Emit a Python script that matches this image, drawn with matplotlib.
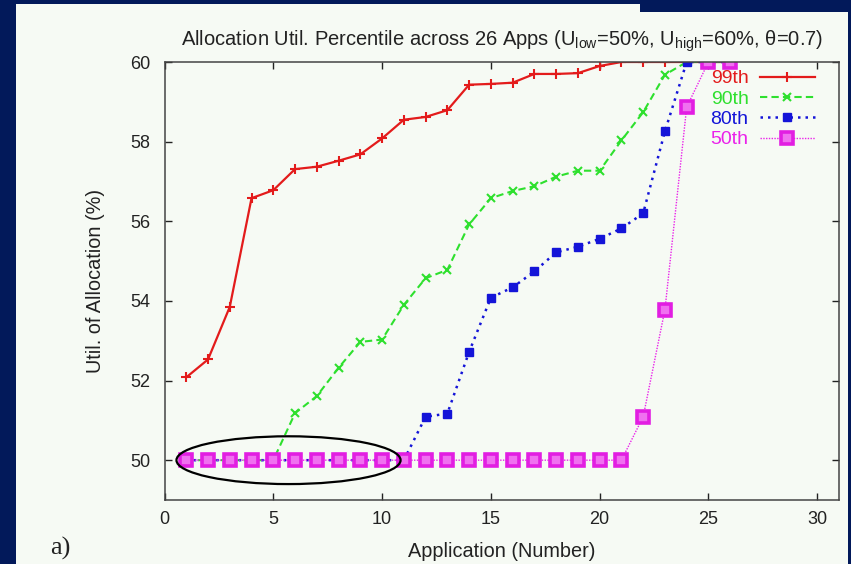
import matplotlib.pyplot as plt
from matplotlib.patches import Ellipse, Rectangle

# application index and percentile curves
apps = list(range(1, 27))

p99 = [52.08, 52.53, 53.85, 56.58, 56.78, 57.31, 57.37, 57.52, 57.68, 58.08,
       58.55, 58.62, 58.79, 59.43, 59.45, 59.48, 59.70, 59.70, 59.72, 59.90,
       60.0, 60.0, 60.0, 60.0, 60.0, 60.0]
p90 = [50.0, 50.0, 50.0, 50.0, 50.0, 51.18, 51.61, 52.32, 52.97, 53.03,
       53.90, 54.57, 54.78, 55.92, 56.58, 56.76, 56.88, 57.12, 57.27, 57.27,
       58.03, 58.74, 59.68, 60.0, 60.0, 60.0]
p80 = [50.0, 50.0, 50.0, 50.0, 50.0, 50.0, 50.0, 50.0, 50.0, 50.0,
       50.0, 51.09, 51.17, 52.72, 54.08, 54.34, 54.74, 55.22, 55.36, 55.56,
       55.82, 56.20, 58.26, 60.0, 60.0, 60.0]
p50 = [50.0] * 21 + [51.09, 53.78, 58.87, 60.0, 60.0]

labels = ["99th", "90th", "80th", "50th"]
xticks = [0, 5, 10, 15, 20, 25, 30]
yticks = [50, 52, 54, 56, 58, 60]

navy = "#02195a"
panel = "#f6faf4"

plt.rcParams["font.family"] = ["Liberation Sans", "DejaVu Sans"]

fig = plt.figure(figsize=(8.51, 5.64), dpi=100)
fig.patch.set_facecolor(panel)

# slide frame around the chart
fig.patches.append(Rectangle((0, 0), 16 / 851, 1, transform=fig.transFigure,
                             facecolor=navy, edgecolor="none", zorder=-1))
fig.patches.append(Rectangle((0, 1 - 4 / 564), 1, 4 / 564, transform=fig.transFigure,
                             facecolor=navy, edgecolor="none", zorder=-1))
fig.patches.append(Rectangle((640 / 851, 1 - 12 / 564), 211 / 851, 12 / 564,
                             transform=fig.transFigure,
                             facecolor=navy, edgecolor="none", zorder=-1))
fig.patches.append(Rectangle((848 / 851, 0), 3 / 851, 1, transform=fig.transFigure,
                             facecolor=navy, edgecolor="none", zorder=-1))

ax = fig.add_axes([164.5 / 851, 64 / 564, 674.5 / 851, 438 / 564])
ax.set_facecolor(panel)

ax.plot(apps, p99, color="#e31b1b", lw=1.6, ls="-", marker="+", ms=7, mew=1.5,
        label=labels[0])
ax.plot(apps, p90, color="#2ee02e", lw=1.5, ls=(0, (3.5, 2)), marker="x", ms=6, mew=1.5,
        label=labels[1])
ax.plot(apps, p80, color="#1414d8", lw=1.8, ls=(0, (1, 2)), marker="s", ms=5.5,
        label=labels[2])
ax.plot(apps, p50, color="#ea22ea", lw=1.0, ls=(0, (1, 1)), marker="s", ms=8, mew=2.6,
        mfc="#f070f0", mec="#e21ee2", label=labels[3])

ax.add_patch(Ellipse((5.7, 50.0), 10.3, 1.2, fill=False, edgecolor="black", lw=1.6,
                     zorder=5))

ax.set_xlim(0, 31)
ax.set_ylim(49, 60)
ax.set_xticks(xticks)
ax.set_yticks(yticks)
ax.tick_params(direction="in", length=5, width=1, top=True, right=True,
               labelsize=13, colors="#222222")
ax.tick_params(axis="x", pad=8)
ax.tick_params(axis="y", pad=10)
for s in ax.spines.values():
    s.set_color("#444444")
    s.set_linewidth(1.1)

ax.set_title("Allocation Util. Percentile across 26 Apps "
             "($\\mathregular{U_{low}}$=50%, $\\mathregular{U_{high}}$=60%, θ=0.7)",
             fontsize=14.5, color="#222222", pad=12)
ax.set_xlabel("Application (Number)", fontsize=14.3, color="#222222", labelpad=10)
ax.set_ylabel("Util. of Allocation (%)", fontsize=14.3, color="#222222", labelpad=18)

leg = ax.legend(loc="upper right", bbox_to_anchor=(0.964, 0.982), frameon=False,
                markerfirst=False, labelcolor="linecolor", fontsize=14,
                handlelength=2.8, handletextpad=0.6, labelspacing=0.14,
                borderpad=0, borderaxespad=0)

fig.text(50 / 851, 9 / 564, "a)", family=["Liberation Serif", "DejaVu Serif"],
         fontsize=19, color="#222222", va="baseline")

fig.savefig("out.png", dpi=100, facecolor=fig.get_facecolor())
